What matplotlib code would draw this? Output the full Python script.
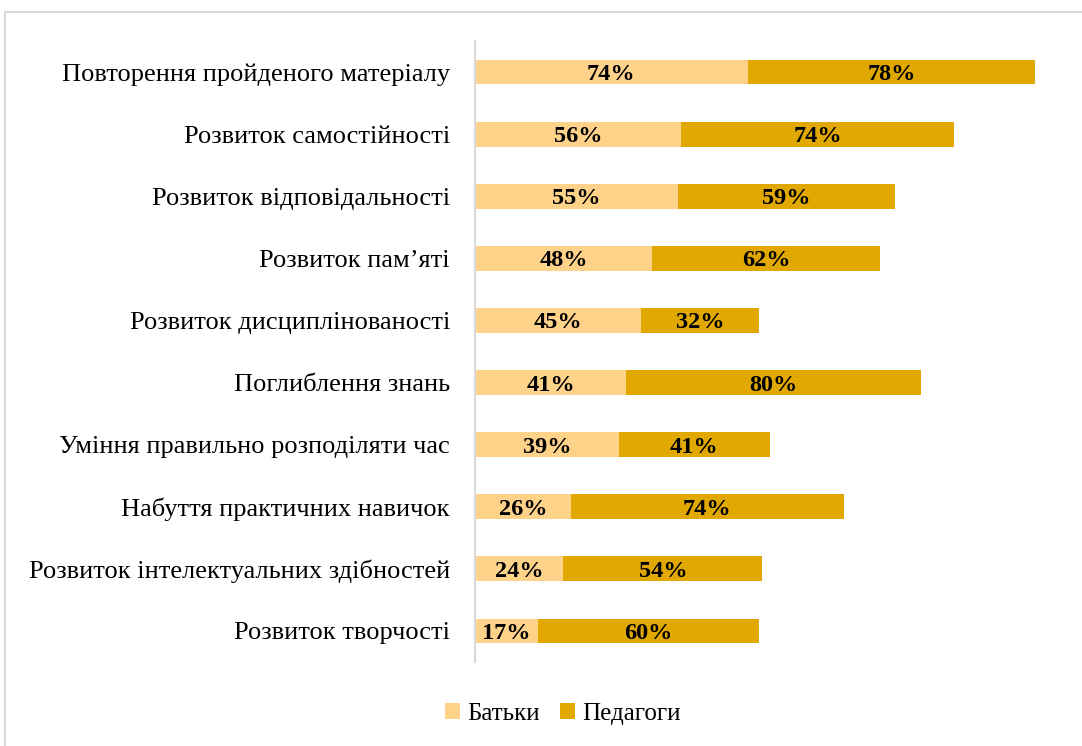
import matplotlib

matplotlib.use("Agg")

import matplotlib.pyplot as plt
from matplotlib.patches import Rectangle

categories = [
    "Повторення пройденого матеріалу",
    "Розвиток самостійності",
    "Розвиток відповідальності",
    "Розвиток пам’яті",
    "Розвиток дисциплінованості",
    "Поглиблення знань",
    "Уміння правильно розподіляти час",
    "Набуття практичних навичок",
    "Розвиток інтелектуальних здібностей",
    "Розвиток творчості",
]
parents = [74, 56, 55, 48, 45, 41, 39, 26, 24, 17]
teachers = [78, 74, 59, 62, 32, 80, 41, 74, 54, 60]
series_names = ["Батьки", "Педагоги"]

light = "#FFD28A"
dark = "#E0A800"

plt.rcParams["font.family"] = ["Liberation Serif", "DejaVu Serif"]

fig = plt.figure(figsize=(10.82, 7.46), dpi=100)
ax = fig.add_axes([0.439, 0.1126, 0.545, 0.8324])

y = list(range(len(categories)))
b1 = ax.barh(y, parents, height=0.4, color=light, label=series_names[0])
b2 = ax.barh(y, teachers, left=parents, height=0.4, color=dark, label=series_names[1])

for bars in (b1, b2):
    labels = ax.bar_label(bars, labels=[f"{int(v)}%" for v in bars.datavalues],
                          label_type="center", fontsize=17.5, fontweight="bold", color="black")
    for t in labels:
        t.set_va("center_baseline")

ax.set_xlim(0, 160)
ax.set_ylim(len(categories) - 0.5, -0.5)
ax.set_yticks(y)
ax.set_yticklabels(categories, fontsize=19)
ax.tick_params(axis="y", length=0, pad=18)
ax.set_xticks([])
for side in ("top", "right", "bottom"):
    ax.spines[side].set_visible(False)
ax.spines["left"].set_color("#D9D9D9")
ax.spines["left"].set_linewidth(1.5)

fig.legend(handles=[b1, b2], loc="center", bbox_to_anchor=(0.52, 0.043), ncol=2,
           frameon=False, fontsize=18, handlelength=0.6, handleheight=0.6,
           handletextpad=0.3, columnspacing=0.8)

fig.patches.append(Rectangle((0.005, -0.02), 1.1, 1.0 - 12 / 746 + 0.02,
                             transform=fig.transFigure, fill=False,
                             edgecolor="#D9D9D9", linewidth=1.5))

fig.savefig("out.png", dpi=100)
